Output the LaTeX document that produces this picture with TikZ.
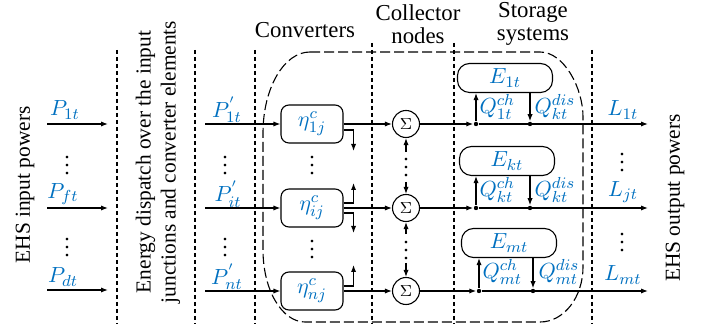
\documentclass[tikz,border=0pt]{standalone}
\usepackage{fontspec}
\setmainfont{Liberation Serif}
\usepackage{xcolor}
\usetikzlibrary{arrows.meta,positioning}
\definecolor{ehsblue}{RGB}{0,112,192}
\DeclareMathSizes{11}{11}{8.5}{6.5}

\begin{document}
\begin{tikzpicture}[
  x=0.5pt, y=-0.5pt, line width=0.55pt,
  font=\fontsize{11}{12.5}\selectfont,
  lbl/.style={text=ehsblue, inner sep=0pt},
  conv/.style={draw, rounded corners=4pt, minimum width=31pt,
               minimum height=19pt, inner sep=0pt, text=ehsblue},
  stor/.style={draw, rounded corners=6pt, minimum width=47.5pt,
               minimum height=14.5pt, inner sep=0pt, text=ehsblue},
  sumnode/.style={draw, circle, minimum size=13.5pt, inner sep=0pt,
                  font=\footnotesize},
  arr/.style={-{Latex[length=3.5pt,width=2.6pt]}},
  vsep/.style={dash pattern=on 2.2pt off 1.3pt},
  jdot/.style={circle, fill, inner sep=0pt, minimum size=2.2pt},
  vd/.style={inner sep=0pt},
  colhead/.style={align=center, font=\fontsize{11.4}{11.5}\selectfont},
  side/.style={rotate=90, align=center, font=\fontsize{10.7}{12.5}\selectfont},
]
\useasboundingbox (0,0) rectangle (704,324);

%% --- Separators and grouping ---
\draw[vsep] (117,50) -- (117,324);
\draw[vsep] (195,50) -- (195,324);
\draw[vsep] (255,50) -- (255,324);
\draw[vsep] (372,43) -- (372,324);
\draw[vsep] (454,43) -- (454,324);
\draw[vsep] (592,50) -- (592,324);
\draw[dash pattern=on 5pt off 2pt]
  (310,52) -- (540,52) .. controls (564,52) and (583,88) .. (583,117)
  -- (583,267) .. controls (583,297) and (564,322) .. (540,322)
  -- (305,322) .. controls (282,322) and (263,290) .. (263,250)
  -- (263,133) .. controls (263,88) and (284,52) .. (310,52) -- cycle;

%% --- Headings ---
\node[side] (ehsin) at (25,185) {EHS input powers};
\node[side] (disp) at (158,162)
      {Energy dispatch over the input\\junctions and converter elements};
\node[side] (ehsout) at (675,198) {EHS output powers};
\node[colhead] (hconv) at (305,30) {Converters};
\node[colhead] (hcoll) at (418,24) {Collector\\nodes};
\node[colhead] (hstor) at (533,24) {Storage\\systems};

%% --- Inputs ---
\coordinate (inA) at (47,124);  \coordinate (dpA) at (108,124);
\coordinate (inB) at (47,208);  \coordinate (dpB) at (108,208);
\coordinate (inC) at (47,290);  \coordinate (dpC) at (108,290);
\draw[arr] (inA) -- (dpA);
\draw[arr] (inB) -- (dpB);
\draw[arr] (inC) -- (dpC);
\node[lbl] (pA) at (65,110) {$P_{1t}$};
\node[lbl] (pB) at (63,194) {$P_{ft}$};
\node[lbl] (pC) at (63,277) {$P_{dt}$};
\node[vd] (vdA) at (67,160) {$\vdots$};
\node[vd] (vdB) at (67,242) {$\vdots$};

%% --- Converters ---
\node[conv] (cv1) at (312,124) {$\eta^{c}_{1j}$};
\node[conv] (cv2) at (312,208) {$\eta^{c}_{ij}$};
\node[conv] (cv3) at (312,291) {$\eta^{c}_{nj}$};
\coordinate (ps1) at (205,124);
\coordinate (ps2) at (205,208);
\coordinate (ps3) at (205,291);
\draw[arr] (ps1) -- (cv1);
\draw[arr] (ps2) -- (cv2);
\draw[arr] (ps3) -- (cv3);
\node[lbl] (pp1) at (227,110) {$P^{'}_{1t}$};
\node[lbl] (pp2) at (228,194) {$P^{'}_{it}$};
\node[lbl] (pp3) at (227,277) {$P^{'}_{nt}$};
\node[vd] (vdC) at (225,160) {$\vdots$};
\node[vd] (vdD) at (225,242) {$\vdots$};
\node[vd] (vdE) at (312,160) {$\vdots$};
\node[vd] (vdF) at (312,244) {$\vdots$};
\draw[arr] ([yshift=-3pt]cv1.east) -- ++(10,0) -- ++(0,21);
\draw[arr] ([yshift=2.5pt]cv2.east) -- ++(10,0) -- ++(0,-20);
\draw[arr] ([yshift=-2.5pt]cv2.east) -- ++(10,0) -- ++(0,20);
\draw[arr] ([yshift=2.5pt]cv3.east) -- ++(10,0) -- ++(0,-21);

%% --- Collector nodes ---
\node[sumnode] (s1) at (406,124) {$\Sigma$};
\node[sumnode] (s2) at (406,208) {$\Sigma$};
\node[sumnode] (s3) at (406,291) {$\Sigma$};
\draw[arr] (cv1) -- (s1);
\draw[arr] (cv2) -- (s2);
\draw[arr] (cv3) -- (s3);
\draw[arr] ([yshift=-7pt]s1.south) -- (s1.south);
\draw[arr] ([yshift=6pt]s2.north) -- (s2.north);
\draw[arr] ([yshift=-6pt]s2.south) -- (s2.south);
\draw[arr] ([yshift=7pt]s3.north) -- (s3.north);
\node[vd] (vdG) at (406,162) {$\vdots$};
\node[vd] (vdH) at (406,245) {$\vdots$};

%% --- Storage systems ---
\node[stor] (e1) at (505,78)  {$E_{1t}$};
\node[stor] (e2) at (507,161) {$E_{kt}$};
\node[stor] (e3) at (509,243) {$E_{mt}$};
\node[jdot] (jc1) at (476,124) {};
\node[jdot] (jc2) at (476,208) {};
\node[jdot] (jc3) at (479,291) {};
\node[jdot] (jd1) at (530,124) {};
\node[jdot] (jd2) at (530,208) {};
\node[jdot] (jd3) at (533,291) {};
\draw[arr] (s1) -- (jc1);
\draw[arr] (s2) -- (jc2);
\draw[arr] (s3) -- (jc3);
\draw[arr] (jc1) -- (jc1 |- e1.south);
\draw[arr] (jc2) -- (jc2 |- e2.south);
\draw[arr] (jc3) -- (jc3 |- e3.south);
\draw[arr] (jd1 |- e1.south) -- (jd1);
\draw[arr] (jd2 |- e2.south) -- (jd2);
\draw[arr] (jd3 |- e3.south) -- (jd3);
\node[lbl, anchor=west] (qc1) at (479,107) {$Q^{ch}_{1t}$};
\node[lbl, anchor=west] (qd1) at (534,107) {$Q^{dis}_{kt}$};
\node[lbl, anchor=west] (qc2) at (479,190) {$Q^{ch}_{kt}$};
\node[lbl, anchor=west] (qd2) at (534,190) {$Q^{dis}_{kt}$};
\node[lbl, anchor=west] (qc3) at (482,272) {$Q^{ch}_{mt}$};
\node[lbl, anchor=west] (qd3) at (538,272) {$Q^{dis}_{mt}$};

%% --- Outputs ---
\coordinate (ot1) at (648,124);
\coordinate (ot2) at (648,208);
\coordinate (ot3) at (648,291);
\draw[arr] (jc1) -- (ot1);
\draw[arr] (jc2) -- (ot2);
\draw[arr] (jc3) -- (ot3);
\node[lbl] (l1) at (623,110) {$L_{1t}$};
\node[lbl] (l2) at (623,192) {$L_{jt}$};
\node[lbl] (l3) at (623,275) {$L_{mt}$};
\node[vd] (vdI) at (622,157) {$\vdots$};
\node[vd] (vdJ) at (622,237) {$\vdots$};

\end{tikzpicture}
\end{document}
